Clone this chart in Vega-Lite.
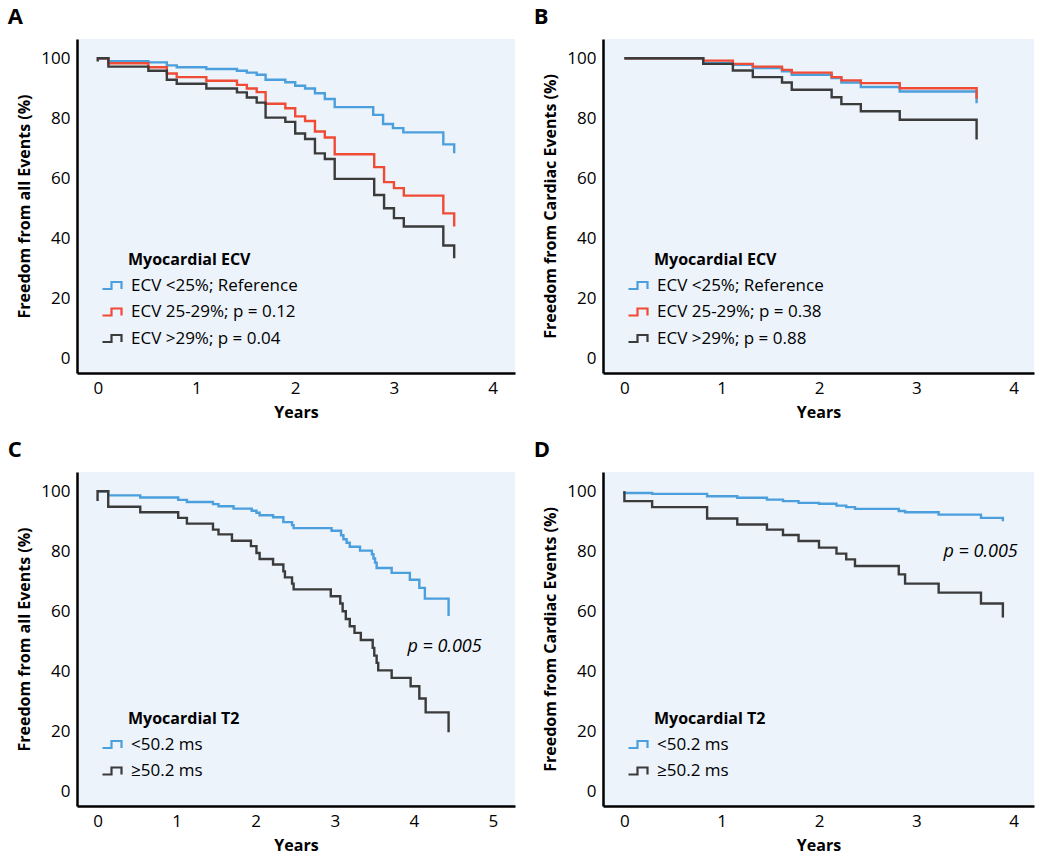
{
  "$schema": "https://vega.github.io/schema/vega-lite/v6.json",
  "background": "white",
  "padding": {"left": 7, "top": 6, "right": 5, "bottom": 5},
  "config": {
    "font": "Open Sans",
    "view": {"stroke": null, "fill": "#ecf3fb"},
    "axis": {"domainColor": "black", "domainWidth": 2.5, "ticks": false, "grid": false, "labelFontSize": 17, "labelColor": "black", "labelPadding": 7, "titleFontSize": 16, "titleFontWeight": "bold", "titleColor": "black", "titlePadding": 8, "format": "d"},
    "title": {"fontSize": 22, "fontWeight": "bold", "anchor": "start", "frame": "bounds", "color": "black", "offset": 10, "dx": -9},
    "legend": {"orient": "none", "legendX": 51, "padding": 0, "symbolType": "M-1,0.35H-0.1V-0.35H0.9V0.35", "symbolSize": 400, "symbolStrokeWidth": 2.2, "symbolFillColor": "transparent", "symbolOffset": -27, "labelFontSize": 17, "labelColor": "black", "labelOffset": 7, "labelLimit": 0, "titleLimit": 0, "titleFontSize": 16, "titleFontWeight": "bold", "titleColor": "black", "titlePadding": 6, "rowPadding": 6.5}
  },
  "datasets": {
    "A": [
      {"g": "ECV <25%; Reference", "i": 0, "t": 0, "v": 100},
      {"g": "ECV <25%; Reference", "i": 1, "t": 0.108, "v": 99.0},
      {"g": "ECV <25%; Reference", "i": 2, "t": 0.513, "v": 98.6},
      {"g": "ECV <25%; Reference", "i": 3, "t": 0.70, "v": 97.6},
      {"g": "ECV <25%; Reference", "i": 4, "t": 0.80, "v": 97.0},
      {"g": "ECV <25%; Reference", "i": 5, "t": 1.10, "v": 96.4},
      {"g": "ECV <25%; Reference", "i": 6, "t": 1.41, "v": 95.8},
      {"g": "ECV <25%; Reference", "i": 7, "t": 1.51, "v": 95.2},
      {"g": "ECV <25%; Reference", "i": 8, "t": 1.61, "v": 94.5},
      {"g": "ECV <25%; Reference", "i": 9, "t": 1.70, "v": 92.8},
      {"g": "ECV <25%; Reference", "i": 10, "t": 1.90, "v": 92.0},
      {"g": "ECV <25%; Reference", "i": 11, "t": 2.00, "v": 90.8},
      {"g": "ECV <25%; Reference", "i": 12, "t": 2.10, "v": 89.9},
      {"g": "ECV <25%; Reference", "i": 13, "t": 2.20, "v": 88.3},
      {"g": "ECV <25%; Reference", "i": 14, "t": 2.30, "v": 86.4},
      {"g": "ECV <25%; Reference", "i": 15, "t": 2.40, "v": 83.7},
      {"g": "ECV <25%; Reference", "i": 16, "t": 2.79, "v": 81.1},
      {"g": "ECV <25%; Reference", "i": 17, "t": 2.89, "v": 78.1},
      {"g": "ECV <25%; Reference", "i": 18, "t": 2.99, "v": 76.7},
      {"g": "ECV <25%; Reference", "i": 19, "t": 3.095, "v": 75.3},
      {"g": "ECV <25%; Reference", "i": 20, "t": 3.50, "v": 71.3},
      {"g": "ECV <25%; Reference", "i": 21, "t": 3.61, "v": 68.3},
      {"g": "ECV 25-29%; p = 0.12", "i": 0, "t": 0, "v": 100},
      {"g": "ECV 25-29%; p = 0.12", "i": 1, "t": 0.108, "v": 98.3},
      {"g": "ECV 25-29%; p = 0.12", "i": 2, "t": 0.513, "v": 97.0},
      {"g": "ECV 25-29%; p = 0.12", "i": 3, "t": 0.70, "v": 94.9},
      {"g": "ECV 25-29%; p = 0.12", "i": 4, "t": 0.80, "v": 93.7},
      {"g": "ECV 25-29%; p = 0.12", "i": 5, "t": 1.10, "v": 92.5},
      {"g": "ECV 25-29%; p = 0.12", "i": 6, "t": 1.41, "v": 91.1},
      {"g": "ECV 25-29%; p = 0.12", "i": 7, "t": 1.51, "v": 89.9},
      {"g": "ECV 25-29%; p = 0.12", "i": 8, "t": 1.61, "v": 88.7},
      {"g": "ECV 25-29%; p = 0.12", "i": 9, "t": 1.70, "v": 84.8},
      {"g": "ECV 25-29%; p = 0.12", "i": 10, "t": 1.90, "v": 83.3},
      {"g": "ECV 25-29%; p = 0.12", "i": 11, "t": 2.00, "v": 80.6},
      {"g": "ECV 25-29%; p = 0.12", "i": 12, "t": 2.10, "v": 79.1},
      {"g": "ECV 25-29%; p = 0.12", "i": 13, "t": 2.20, "v": 75.6},
      {"g": "ECV 25-29%; p = 0.12", "i": 14, "t": 2.30, "v": 73.6},
      {"g": "ECV 25-29%; p = 0.12", "i": 15, "t": 2.40, "v": 68.0},
      {"g": "ECV 25-29%; p = 0.12", "i": 16, "t": 2.80, "v": 63.7},
      {"g": "ECV 25-29%; p = 0.12", "i": 17, "t": 2.90, "v": 58.7},
      {"g": "ECV 25-29%; p = 0.12", "i": 18, "t": 3.00, "v": 56.7},
      {"g": "ECV 25-29%; p = 0.12", "i": 19, "t": 3.10, "v": 54.2},
      {"g": "ECV 25-29%; p = 0.12", "i": 20, "t": 3.50, "v": 48.3},
      {"g": "ECV 25-29%; p = 0.12", "i": 21, "t": 3.61, "v": 43.9},
      {"g": "ECV >29%; p = 0.04", "i": 0, "t": 0, "v": 98.9},
      {"g": "ECV >29%; p = 0.04", "i": 1, "t": 0, "v": 100},
      {"g": "ECV >29%; p = 0.04", "i": 2, "t": 0.108, "v": 97.2},
      {"g": "ECV >29%; p = 0.04", "i": 3, "t": 0.513, "v": 95.8},
      {"g": "ECV >29%; p = 0.04", "i": 4, "t": 0.70, "v": 92.8},
      {"g": "ECV >29%; p = 0.04", "i": 5, "t": 0.80, "v": 91.5},
      {"g": "ECV >29%; p = 0.04", "i": 6, "t": 1.10, "v": 89.9},
      {"g": "ECV >29%; p = 0.04", "i": 7, "t": 1.41, "v": 88.6},
      {"g": "ECV >29%; p = 0.04", "i": 8, "t": 1.51, "v": 86.9},
      {"g": "ECV >29%; p = 0.04", "i": 9, "t": 1.61, "v": 85.2},
      {"g": "ECV >29%; p = 0.04", "i": 10, "t": 1.70, "v": 80.2},
      {"g": "ECV >29%; p = 0.04", "i": 11, "t": 1.90, "v": 78.8},
      {"g": "ECV >29%; p = 0.04", "i": 12, "t": 2.00, "v": 74.9},
      {"g": "ECV >29%; p = 0.04", "i": 13, "t": 2.10, "v": 73.1},
      {"g": "ECV >29%; p = 0.04", "i": 14, "t": 2.20, "v": 68.3},
      {"g": "ECV >29%; p = 0.04", "i": 15, "t": 2.30, "v": 66.4},
      {"g": "ECV >29%; p = 0.04", "i": 16, "t": 2.40, "v": 59.8},
      {"g": "ECV >29%; p = 0.04", "i": 17, "t": 2.80, "v": 54.4},
      {"g": "ECV >29%; p = 0.04", "i": 18, "t": 2.90, "v": 50.0},
      {"g": "ECV >29%; p = 0.04", "i": 19, "t": 3.00, "v": 46.7},
      {"g": "ECV >29%; p = 0.04", "i": 20, "t": 3.10, "v": 43.9},
      {"g": "ECV >29%; p = 0.04", "i": 21, "t": 3.50, "v": 37.6},
      {"g": "ECV >29%; p = 0.04", "i": 22, "t": 3.61, "v": 33.3}
    ],
    "B": [
      {"g": "ECV <25%; Reference", "i": 0, "t": 0, "v": 100},
      {"g": "ECV <25%; Reference", "i": 1, "t": 0.81, "v": 98.3},
      {"g": "ECV <25%; Reference", "i": 2, "t": 1.115, "v": 97.8},
      {"g": "ECV <25%; Reference", "i": 3, "t": 1.32, "v": 96.7},
      {"g": "ECV <25%; Reference", "i": 4, "t": 1.62, "v": 95.6},
      {"g": "ECV <25%; Reference", "i": 5, "t": 1.72, "v": 94.5},
      {"g": "ECV <25%; Reference", "i": 6, "t": 2.13, "v": 93.4},
      {"g": "ECV <25%; Reference", "i": 7, "t": 2.23, "v": 91.9},
      {"g": "ECV <25%; Reference", "i": 8, "t": 2.43, "v": 90.4},
      {"g": "ECV <25%; Reference", "i": 9, "t": 2.83, "v": 88.9},
      {"g": "ECV <25%; Reference", "i": 10, "t": 3.62, "v": 85.0},
      {"g": "ECV 25-29%; p = 0.38", "i": 0, "t": 0, "v": 100},
      {"g": "ECV 25-29%; p = 0.38", "i": 1, "t": 0.81, "v": 99.2},
      {"g": "ECV 25-29%; p = 0.38", "i": 2, "t": 1.115, "v": 98.1},
      {"g": "ECV 25-29%; p = 0.38", "i": 3, "t": 1.32, "v": 97.2},
      {"g": "ECV 25-29%; p = 0.38", "i": 4, "t": 1.62, "v": 96.1},
      {"g": "ECV 25-29%; p = 0.38", "i": 5, "t": 1.72, "v": 95.2},
      {"g": "ECV 25-29%; p = 0.38", "i": 6, "t": 2.13, "v": 93.7},
      {"g": "ECV 25-29%; p = 0.38", "i": 7, "t": 2.23, "v": 92.6},
      {"g": "ECV 25-29%; p = 0.38", "i": 8, "t": 2.43, "v": 91.7},
      {"g": "ECV 25-29%; p = 0.38", "i": 9, "t": 2.83, "v": 90.0},
      {"g": "ECV 25-29%; p = 0.38", "i": 10, "t": 3.62, "v": 86.5},
      {"g": "ECV >29%; p = 0.88", "i": 0, "t": 0, "v": 100},
      {"g": "ECV >29%; p = 0.88", "i": 1, "t": 0.81, "v": 98.1},
      {"g": "ECV >29%; p = 0.88", "i": 2, "t": 1.115, "v": 95.9},
      {"g": "ECV >29%; p = 0.88", "i": 3, "t": 1.32, "v": 93.7},
      {"g": "ECV >29%; p = 0.88", "i": 4, "t": 1.62, "v": 91.9},
      {"g": "ECV >29%; p = 0.88", "i": 5, "t": 1.72, "v": 89.5},
      {"g": "ECV >29%; p = 0.88", "i": 6, "t": 2.13, "v": 87.0},
      {"g": "ECV >29%; p = 0.88", "i": 7, "t": 2.23, "v": 84.7},
      {"g": "ECV >29%; p = 0.88", "i": 8, "t": 2.43, "v": 82.3},
      {"g": "ECV >29%; p = 0.88", "i": 9, "t": 2.83, "v": 79.5},
      {"g": "ECV >29%; p = 0.88", "i": 10, "t": 3.62, "v": 72.9}
    ],
    "C": [
      {"g": "<50.2 ms", "i": 0, "t": 0, "v": 100},
      {"g": "<50.2 ms", "i": 1, "t": 0.135, "v": 98.6},
      {"g": "<50.2 ms", "i": 2, "t": 0.54, "v": 97.9},
      {"g": "<50.2 ms", "i": 3, "t": 1.02, "v": 97.1},
      {"g": "<50.2 ms", "i": 4, "t": 1.13, "v": 96.4},
      {"g": "<50.2 ms", "i": 5, "t": 1.46, "v": 95.7},
      {"g": "<50.2 ms", "i": 6, "t": 1.53, "v": 95.0},
      {"g": "<50.2 ms", "i": 7, "t": 1.72, "v": 94.2},
      {"g": "<50.2 ms", "i": 8, "t": 1.95, "v": 93.5},
      {"g": "<50.2 ms", "i": 9, "t": 2.01, "v": 92.8},
      {"g": "<50.2 ms", "i": 10, "t": 2.05, "v": 92.0},
      {"g": "<50.2 ms", "i": 11, "t": 2.22, "v": 91.3},
      {"g": "<50.2 ms", "i": 12, "t": 2.35, "v": 89.7},
      {"g": "<50.2 ms", "i": 13, "t": 2.46, "v": 88.7},
      {"g": "<50.2 ms", "i": 14, "t": 2.48, "v": 87.7},
      {"g": "<50.2 ms", "i": 15, "t": 2.96, "v": 86.8},
      {"g": "<50.2 ms", "i": 16, "t": 3.08, "v": 85.3},
      {"g": "<50.2 ms", "i": 17, "t": 3.11, "v": 84.0},
      {"g": "<50.2 ms", "i": 18, "t": 3.15, "v": 82.8},
      {"g": "<50.2 ms", "i": 19, "t": 3.19, "v": 81.5},
      {"g": "<50.2 ms", "i": 20, "t": 3.32, "v": 80.2},
      {"g": "<50.2 ms", "i": 21, "t": 3.47, "v": 79.0},
      {"g": "<50.2 ms", "i": 22, "t": 3.49, "v": 77.6},
      {"g": "<50.2 ms", "i": 23, "t": 3.51, "v": 76.2},
      {"g": "<50.2 ms", "i": 24, "t": 3.53, "v": 74.4},
      {"g": "<50.2 ms", "i": 25, "t": 3.72, "v": 72.8},
      {"g": "<50.2 ms", "i": 26, "t": 3.95, "v": 70.5},
      {"g": "<50.2 ms", "i": 27, "t": 4.07, "v": 67.8},
      {"g": "<50.2 ms", "i": 28, "t": 4.14, "v": 64.2},
      {"g": "<50.2 ms", "i": 29, "t": 4.44, "v": 58.4},
      {"g": "≥50.2 ms", "i": 0, "t": 0, "v": 96.7},
      {"g": "≥50.2 ms", "i": 1, "t": 0, "v": 100},
      {"g": "≥50.2 ms", "i": 2, "t": 0.135, "v": 94.8},
      {"g": "≥50.2 ms", "i": 3, "t": 0.54, "v": 93.0},
      {"g": "≥50.2 ms", "i": 4, "t": 1.02, "v": 91.1},
      {"g": "≥50.2 ms", "i": 5, "t": 1.13, "v": 89.2},
      {"g": "≥50.2 ms", "i": 6, "t": 1.46, "v": 87.2},
      {"g": "≥50.2 ms", "i": 7, "t": 1.53, "v": 85.6},
      {"g": "≥50.2 ms", "i": 8, "t": 1.70, "v": 83.5},
      {"g": "≥50.2 ms", "i": 9, "t": 1.94, "v": 81.7},
      {"g": "≥50.2 ms", "i": 10, "t": 2.01, "v": 79.4},
      {"g": "≥50.2 ms", "i": 11, "t": 2.05, "v": 77.4},
      {"g": "≥50.2 ms", "i": 12, "t": 2.22, "v": 75.6},
      {"g": "≥50.2 ms", "i": 13, "t": 2.35, "v": 73.3},
      {"g": "≥50.2 ms", "i": 14, "t": 2.37, "v": 71.3},
      {"g": "≥50.2 ms", "i": 15, "t": 2.46, "v": 69.2},
      {"g": "≥50.2 ms", "i": 16, "t": 2.48, "v": 67.3},
      {"g": "≥50.2 ms", "i": 17, "t": 2.95, "v": 65.0},
      {"g": "≥50.2 ms", "i": 18, "t": 3.07, "v": 62.6},
      {"g": "≥50.2 ms", "i": 19, "t": 3.10, "v": 60.0},
      {"g": "≥50.2 ms", "i": 20, "t": 3.14, "v": 57.4},
      {"g": "≥50.2 ms", "i": 21, "t": 3.19, "v": 55.0},
      {"g": "≥50.2 ms", "i": 22, "t": 3.25, "v": 52.8},
      {"g": "≥50.2 ms", "i": 23, "t": 3.33, "v": 50.4},
      {"g": "≥50.2 ms", "i": 24, "t": 3.48, "v": 47.8},
      {"g": "≥50.2 ms", "i": 25, "t": 3.50, "v": 45.2},
      {"g": "≥50.2 ms", "i": 26, "t": 3.53, "v": 42.8},
      {"g": "≥50.2 ms", "i": 27, "t": 3.55, "v": 40.3},
      {"g": "≥50.2 ms", "i": 28, "t": 3.72, "v": 37.8},
      {"g": "≥50.2 ms", "i": 29, "t": 3.96, "v": 35.0},
      {"g": "≥50.2 ms", "i": 30, "t": 4.07, "v": 30.9},
      {"g": "≥50.2 ms", "i": 31, "t": 4.15, "v": 26.3},
      {"g": "≥50.2 ms", "i": 32, "t": 4.44, "v": 19.7}
    ],
    "D": [
      {"g": "<50.2 ms", "i": 0, "t": 0, "v": 100},
      {"g": "<50.2 ms", "i": 1, "t": 0, "v": 99.4},
      {"g": "<50.2 ms", "i": 2, "t": 0.285, "v": 99.1},
      {"g": "<50.2 ms", "i": 3, "t": 0.85, "v": 98.3},
      {"g": "<50.2 ms", "i": 4, "t": 1.16, "v": 97.8},
      {"g": "<50.2 ms", "i": 5, "t": 1.465, "v": 97.2},
      {"g": "<50.2 ms", "i": 6, "t": 1.63, "v": 96.7},
      {"g": "<50.2 ms", "i": 7, "t": 1.79, "v": 96.1},
      {"g": "<50.2 ms", "i": 8, "t": 2.0, "v": 95.8},
      {"g": "<50.2 ms", "i": 9, "t": 2.18, "v": 95.2},
      {"g": "<50.2 ms", "i": 10, "t": 2.28, "v": 94.7},
      {"g": "<50.2 ms", "i": 11, "t": 2.37, "v": 94.1},
      {"g": "<50.2 ms", "i": 12, "t": 2.82, "v": 93.4},
      {"g": "<50.2 ms", "i": 13, "t": 2.885, "v": 93.0},
      {"g": "<50.2 ms", "i": 14, "t": 3.23, "v": 92.2},
      {"g": "<50.2 ms", "i": 15, "t": 3.665, "v": 91.1},
      {"g": "<50.2 ms", "i": 16, "t": 3.89, "v": 90.0},
      {"g": "≥50.2 ms", "i": 0, "t": 0, "v": 100},
      {"g": "≥50.2 ms", "i": 1, "t": 0, "v": 96.7},
      {"g": "≥50.2 ms", "i": 2, "t": 0.285, "v": 94.7},
      {"g": "≥50.2 ms", "i": 3, "t": 0.85, "v": 90.9},
      {"g": "≥50.2 ms", "i": 4, "t": 1.16, "v": 88.9},
      {"g": "≥50.2 ms", "i": 5, "t": 1.465, "v": 87.2},
      {"g": "≥50.2 ms", "i": 6, "t": 1.63, "v": 85.4},
      {"g": "≥50.2 ms", "i": 7, "t": 1.79, "v": 83.4},
      {"g": "≥50.2 ms", "i": 8, "t": 2.0, "v": 81.2},
      {"g": "≥50.2 ms", "i": 9, "t": 2.18, "v": 79.2},
      {"g": "≥50.2 ms", "i": 10, "t": 2.28, "v": 77.3},
      {"g": "≥50.2 ms", "i": 11, "t": 2.37, "v": 75.1},
      {"g": "≥50.2 ms", "i": 12, "t": 2.82, "v": 72.3},
      {"g": "≥50.2 ms", "i": 13, "t": 2.885, "v": 69.2},
      {"g": "≥50.2 ms", "i": 14, "t": 3.23, "v": 66.2},
      {"g": "≥50.2 ms", "i": 15, "t": 3.665, "v": 62.6},
      {"g": "≥50.2 ms", "i": 16, "t": 3.89, "v": 57.9}
    ]
  },
  "spacing": 19,
  "resolve": {"scale": {"color": "independent"}, "legend": {"color": "independent"}},
  "vconcat": [
    {
      "spacing": 18,
      "resolve": {"scale": {"color": "independent"}, "legend": {"color": "independent"}},
      "hconcat": [
        {
          "title": {"text": "A"},
          "width": 438, "height": 334,
          "data": {"name": "A"},
          "mark": {"type": "line", "interpolate": "step-after", "strokeWidth": 2.4},
          "encoding": {
            "x": {"field": "t", "type": "quantitative", "scale": {"domain": [-0.21, 4.226], "nice": false, "zero": false}, "axis": {"values": [0, 1, 2, 3, 4], "title": "Years"}},
            "y": {"field": "v", "type": "quantitative", "scale": {"domain": [-4.9, 106.4], "nice": false, "zero": false}, "axis": {"values": [0, 20, 40, 60, 80, 100], "title": "Freedom from all Events (%)"}},
            "color": {"field": "g", "type": "nominal", "scale": {"domain": ["ECV <25%; Reference", "ECV 25-29%; p = 0.12", "ECV >29%; p = 0.04"], "range": ["#4b9fdd", "#f04b35", "#3b3b3b"]}, "legend": {"title": "Myocardial ECV", "legendY": 213}},
            "order": {"field": "i", "type": "quantitative"}
          }
        },
        {
          "title": {"text": "B"},
          "width": 431, "height": 334,
          "data": {"name": "B"},
          "mark": {"type": "line", "interpolate": "step-after", "strokeWidth": 2.4},
          "encoding": {
            "x": {"field": "t", "type": "quantitative", "scale": {"domain": [-0.22, 4.21], "nice": false, "zero": false}, "axis": {"values": [0, 1, 2, 3, 4], "title": "Years"}},
            "y": {"field": "v", "type": "quantitative", "scale": {"domain": [-4.9, 106.4], "nice": false, "zero": false}, "axis": {"values": [0, 20, 40, 60, 80, 100], "title": "Freedom from Cardiac Events (%)"}},
            "color": {"field": "g", "type": "nominal", "scale": {"domain": ["ECV <25%; Reference", "ECV 25-29%; p = 0.38", "ECV >29%; p = 0.88"], "range": ["#4b9fdd", "#f04b35", "#3b3b3b"]}, "legend": {"title": "Myocardial ECV", "legendY": 213}},
            "order": {"field": "i", "type": "quantitative"}
          }
        }
      ]
    },
    {
      "spacing": 18,
      "resolve": {"scale": {"color": "independent"}, "legend": {"color": "independent"}},
      "hconcat": [
        {
          "title": {"text": "C"},
          "width": 438, "height": 334,
          "layer": [
            {
              "data": {"name": "C"},
              "mark": {"type": "line", "interpolate": "step-after", "strokeWidth": 2.4},
              "encoding": {
                "x": {"field": "t", "type": "quantitative", "scale": {"domain": [-0.26, 5.28], "nice": false, "zero": false}, "axis": {"values": [0, 1, 2, 3, 4, 5], "title": "Years"}},
                "y": {"field": "v", "type": "quantitative", "scale": {"domain": [-4.9, 106.4], "nice": false, "zero": false}, "axis": {"values": [0, 20, 40, 60, 80, 100], "title": "Freedom from all Events (%)"}},
                "color": {"field": "g", "type": "nominal", "scale": {"domain": ["<50.2 ms", "≥50.2 ms"], "range": ["#4b9fdd", "#3b3b3b"]}, "legend": {"title": "Myocardial T2", "legendY": 239}},
                "order": {"field": "i", "type": "quantitative"}
              }
            },
            {
              "data": {"values": [{"label": "p = 0.005"}]},
              "mark": {"type": "text", "fontStyle": "italic", "fontSize": 18, "align": "left", "baseline": "middle", "color": "black"},
              "encoding": {
                "x": {"datum": 3.92, "type": "quantitative"},
                "y": {"datum": 48.1, "type": "quantitative"},
                "text": {"field": "label"}
              }
            }
          ]
        },
        {
          "title": {"text": "D"},
          "width": 431, "height": 334,
          "layer": [
            {
              "data": {"name": "D"},
              "mark": {"type": "line", "interpolate": "step-after", "strokeWidth": 2.4},
              "encoding": {
                "x": {"field": "t", "type": "quantitative", "scale": {"domain": [-0.22, 4.21], "nice": false, "zero": false}, "axis": {"values": [0, 1, 2, 3, 4], "title": "Years"}},
                "y": {"field": "v", "type": "quantitative", "scale": {"domain": [-4.9, 106.4], "nice": false, "zero": false}, "axis": {"values": [0, 20, 40, 60, 80, 100], "title": "Freedom from Cardiac Events (%)"}},
                "color": {"field": "g", "type": "nominal", "scale": {"domain": ["<50.2 ms", "≥50.2 ms"], "range": ["#4b9fdd", "#3b3b3b"]}, "legend": {"title": "Myocardial T2", "legendY": 239}},
                "order": {"field": "i", "type": "quantitative"}
              }
            },
            {
              "data": {"values": [{"label": "p = 0.005"}]},
              "mark": {"type": "text", "fontStyle": "italic", "fontSize": 18, "align": "left", "baseline": "middle", "color": "black"},
              "encoding": {
                "x": {"datum": 3.28, "type": "quantitative"},
                "y": {"datum": 79.6, "type": "quantitative"},
                "text": {"field": "label"}
              }
            }
          ]
        }
      ]
    }
  ]
}
